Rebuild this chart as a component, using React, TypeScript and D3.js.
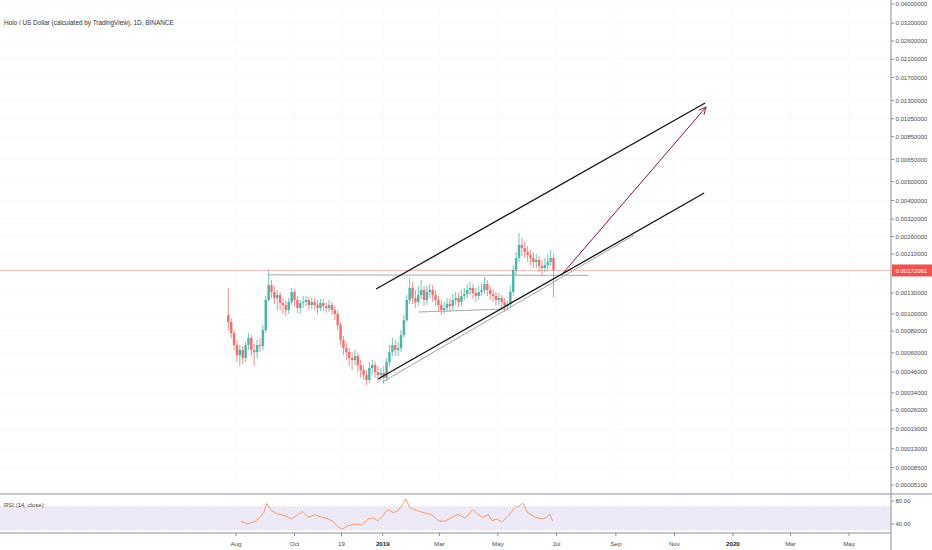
import * as d3 from "d3";

// TradingView log scale adds a small offset before taking the log
const OFF = 0.0001;
const MICRO = 1e-6; // candle values are stored in micro-USD

// ── Candles (3-day bars, values in µUSD) ─────────────────────────
const candleStart = "2018-07-24";
const stepDays = 3;
const firstOpen = 986;
const closes = [
  900, 780, 666, 582, 623, 559, 666, 732, 623, 606,
  666, 657, 812, 1192, 1438, 1318, 1222, 1269, 1148, 1119,
  1050, 1163, 1318, 1192, 1078, 1148, 1163, 1192, 1119, 1163,
  1119, 1078, 1148, 1105, 1078, 1119, 1050, 999, 867, 712,
  640, 606, 559, 544, 574, 507, 473, 441, 411, 487,
  507, 460, 441, 454, 423, 529, 606, 666, 623, 640,
  761, 924, 1192, 1386, 1222, 1163, 1269, 1351, 1192, 1318,
  1351, 1269, 1192, 1119, 1050, 1078, 1134, 1105, 1192, 1222,
  1163, 1254, 1285, 1351, 1386, 1301, 1254, 1318, 1351, 1456,
  1351, 1285, 1254, 1192, 1222, 1163, 1105, 1134, 1318, 1730,
  2004, 2346, 2263, 2156, 2078, 2004, 1909, 1955, 1818, 1774,
  1840, 1909, 2004, 1730,
];
const highs = [
  1386, 949, 812, 712, 666, 657, 694, 781, 761, 675,
  712, 732, 867, 1254, 1730, 1530, 1421, 1351, 1318, 1222,
  1192, 1222, 1386, 1368, 1254, 1192, 1254, 1254, 1238, 1222,
  1222, 1192, 1207, 1207, 1163, 1192, 1163, 1105, 1050, 901,
  751, 685, 640, 607, 623, 598, 544, 507, 473, 529,
  544, 529, 500, 487, 500, 559, 666, 732, 712, 694,
  812, 986, 1269, 1569, 1493, 1351, 1421, 1530, 1421, 1421,
  1456, 1438, 1351, 1254, 1192, 1163, 1222, 1222, 1285, 1318,
  1301, 1351, 1386, 1456, 1493, 1456, 1386, 1421, 1475, 1588,
  1530, 1421, 1368, 1318, 1301, 1269, 1222, 1192, 1421, 1840,
  2156, 2713, 2553, 2433, 2318, 2208, 2156, 2104, 2053, 1955,
  2004, 2104, 2208, 2104,
];
const lows = [
  812, 732, 623, 529, 500, 514, 529, 623, 574, 500,
  559, 607, 623, 781, 1163, 1222, 1134, 1050, 1050, 999,
  974, 999, 1119, 1105, 1012, 999, 1078, 1105, 1050, 1064,
  1050, 999, 1037, 1037, 1012, 1024, 986, 924, 812, 666,
  582, 544, 500, 473, 507, 460, 423, 411, 382, 394,
  447, 423, 399, 405, 388, 405, 500, 574, 574, 574,
  607, 732, 901, 1134, 1134, 1078, 1105, 1207, 1105, 1119,
  1222, 1163, 1105, 1037, 986, 999, 1024, 1024, 1050, 1119,
  1091, 1105, 1192, 1222, 1269, 1207, 1163, 1192, 1254, 1285,
  1254, 1192, 1163, 1105, 1119, 1078, 1024, 1050, 1078, 1254,
  1627, 1909, 2053, 2004, 1909, 1840, 1774, 1774, 1689, 1627,
  1689, 1730, 1818, 1238,
];
const lastPrice = 0.00172061;

// ── RSI (14, close) ──────────────────────────────────────────────
const rsiDates = [
  "2018-08-06", "2018-08-13", "2018-08-21", "2018-08-26", "2018-08-30", "2018-09-02", "2018-09-07", "2018-09-14", "2018-09-21", "2018-09-28",
  "2018-10-05", "2018-10-09", "2018-10-15", "2018-10-22", "2018-10-30", "2018-11-05", "2018-11-10", "2018-11-15", "2018-11-20", "2018-11-26",
  "2018-12-03", "2018-12-10", "2018-12-17", "2018-12-22", "2018-12-27", "2019-01-01", "2019-01-06", "2019-01-12", "2019-01-17", "2019-01-22",
  "2019-01-25", "2019-01-29", "2019-02-06", "2019-02-12", "2019-02-21", "2019-02-28", "2019-03-07", "2019-03-14", "2019-03-20", "2019-03-28",
  "2019-04-05", "2019-04-10", "2019-04-15", "2019-04-21", "2019-04-25", "2019-04-30", "2019-05-05", "2019-05-12", "2019-05-19", "2019-05-24",
  "2019-05-27", "2019-06-01", "2019-06-09", "2019-06-16", "2019-06-21", "2019-06-24", "2019-06-27",
];
const rsiValues = [
  44.7, 40, 44.7, 51.6, 60, 76, 63, 57, 54.5, 48.7,
  57, 62, 51.6, 56, 51.6, 48.7, 44.7, 35.5, 31, 37,
  40, 38.8, 48.7, 50.4, 45.7, 54.5, 65, 60, 63, 74.8,
  83.5, 69, 63, 60, 56, 45.7, 44.7, 51.6, 57, 50.4,
  65, 57, 51.6, 56, 45.7, 48.7, 43.5, 54.5, 69, 72,
  76, 60, 51.6, 48.7, 51.6, 57, 45.7,
];

// ── Axis ticks ───────────────────────────────────────────────────
const priceTicks = [
  0.04, 0.032, 0.026, 0.021, 0.017, 0.013, 0.0105, 0.0085, 0.0065, 0.005,
  0.004, 0.0032, 0.0026, 0.0021, 0.0013, 0.001, 0.0008, 0.0006, 0.00046,
  0.00034, 0.00026, 0.00019, 0.00013, 0.000085, 0.000051,
];
const timeTickDates = [
  "2018-08-01", "2018-10-01", "2018-11-19", "2019-01-01", "2019-03-01", "2019-05-01",
  "2019-07-01", "2019-09-01", "2019-11-01", "2020-01-01", "2020-03-01", "2020-05-01",
];
const timeTickLabels = ["Aug", "Oct", "19", "2019", "Mar", "May", "Jul", "Sep", "Nov", "2020", "Mar", "May"];
const rsiTicks = [80, 40];

// ── Drawings ─────────────────────────────────────────────────────
const upperChannel = [["2018-12-25", 0.001368], ["2019-12-03", 0.01261]] as const;
const lowerChannel = [["2018-12-27", 0.000417], ["2019-12-02", 0.004371]] as const;
const lowerGuide = [["2018-12-31", 0.000397], ["2019-09-20", 0.002647]] as const;
const resistance = [["2018-09-03", 0.00163], ["2019-08-03", 0.00162]] as const;
const support = [["2019-02-07", 0.001024], ["2019-05-10", 0.001064]] as const;
const projection = [["2019-07-08", 0.001667], ["2019-12-04", 0.01203]] as const;

const W = 932;
const H = 550;
const PANE_R = 891;
const MAIN_B = 494;
const RSI_B = 533;
const FONT = "'Liberation Sans', Arial, sans-serif";
const UP = "#26a69a";
const DOWN = "#ef5350";

const parse = d3.timeParse("%Y-%m-%d");
const x = d3.scaleTime()
  .domain([parse("2018-08-01")!, parse("2020-05-01")!])
  .range([236, 849]);
const yLog = d3.scaleLog().domain([0.04 + OFF, 0.000051 + OFF]).range([4, 485]);
const y = (p: number) => yLog(p + OFF);
const rsiY = d3.scaleLinear().domain([40, 80]).range([524, 501]);

export default function App() {
  const t0 = parse(candleStart)!;
  const candles = closes.map((c, i) => {
    const o = i === 0 ? firstOpen : closes[i - 1];
    return {
      date: d3.timeDay.offset(t0, i * stepDays),
      o: o * MICRO, c: c * MICRO, h: highs[i] * MICRO, l: lows[i] * MICRO,
    };
  });
  const bodyW = (x(d3.timeDay.offset(t0, stepDays)) - x(t0)) * 0.85;

  const rsiLine = d3.line<number>()
    .x((_, i) => x(parse(rsiDates[i])!))
    .y((v) => rsiY(v));

  const seg = (pts: readonly (readonly [string, number])[]) => ({
    x1: x(parse(pts[0][0])!), y1: y(pts[0][1]),
    x2: x(parse(pts[1][0])!), y2: y(pts[1][1]),
  });

  const arrow = seg(projection);
  const ang = Math.atan2(arrow.y2 - arrow.y1, arrow.x2 - arrow.x1);
  const head = 8;
  const headPts = [ang + Math.PI - 0.45, ang + Math.PI + 0.45].map((a) => [
    arrow.x2 + head * Math.cos(a),
    arrow.y2 + head * Math.sin(a),
  ]);

  const yLast = y(lastPrice);

  return (
    <svg
      width={W}
      height={H}
      style={{ position: "absolute", left: 0, top: 0, background: "#fff" }}
      fontFamily={FONT}
    >
      {/* grid */}
      {priceTicks.map((p) => (
        <line key={p} x1={0} x2={PANE_R} y1={y(p)} y2={y(p)} stroke="#f8f9fb" />
      ))}
      {timeTickDates.map((d) => (
        <line key={d} x1={x(parse(d)!)} x2={x(parse(d)!)} y1={0} y2={MAIN_B} stroke="#f8f9fb" />
      ))}

      {/* last price line */}
      <line x1={0} x2={PANE_R} y1={yLast} y2={yLast} stroke={DOWN} strokeOpacity={0.4} />

      {/* candles */}
      {candles.map((k, i) => {
        const col = k.c >= k.o ? UP : DOWN;
        const cx = x(k.date);
        const top = y(Math.max(k.o, k.c));
        const bot = y(Math.min(k.o, k.c));
        return (
          <g key={i} opacity={0.82}>
            <line x1={cx} x2={cx} y1={y(k.h)} y2={y(k.l)} stroke={col} strokeWidth={0.8} />
            <rect x={cx - bodyW / 2} y={top} width={bodyW} height={Math.max(bot - top, 0.8)} fill={col} />
          </g>
        );
      })}

      {/* drawings */}
      {[resistance, support].map((s, i) => (
        <line key={i} {...seg(s)} stroke="#a8a8a8" strokeWidth={1} />
      ))}
      <line {...seg(lowerGuide)} stroke="#a0a0a0" strokeWidth={1} />
      <line {...seg(upperChannel)} stroke="#111" strokeWidth={1.3} />
      <line {...seg(lowerChannel)} stroke="#111" strokeWidth={1.3} />
      <line {...arrow} stroke="#880e4f" strokeWidth={1} />
      <polyline
        points={`${headPts[0][0]},${headPts[0][1]} ${arrow.x2},${arrow.y2} ${headPts[1][0]},${headPts[1][1]}`}
        fill="none"
        stroke="#880e4f"
        strokeWidth={1}
      />

      {/* title */}
      <text x={4} y={25} fontSize={6.4} fill="#333">
        Holo / US Dollar (calculated by TradingView), 1D, BINANCE
      </text>

      {/* RSI pane */}
      <line x1={0} x2={W} y1={MAIN_B} y2={MAIN_B} stroke="#b2b5be" strokeWidth={1.5} />
      <rect x={0} y={rsiY(70)} width={PANE_R} height={rsiY(30) - rsiY(70)} fill="#7e57c2" fillOpacity={0.13} />
      {[70, 30].map((v) => (
        <line key={v} x1={0} x2={PANE_R} y1={rsiY(v)} y2={rsiY(v)} stroke="#c3c3c3" strokeDasharray="1,2" strokeWidth={0.7} />
      ))}
      <path d={rsiLine(rsiValues) ?? ""} fill="none" stroke="#f7935e" strokeWidth={0.9} />
      <text x={4} y={507} fontSize={6} fill="#444">RSI (14, close)</text>

      {/* price axis */}
      <line x1={PANE_R} x2={PANE_R} y1={0} y2={H} stroke="#8d8f96" strokeWidth={1} />
      {priceTicks.map((p) => (
        <g key={p}>
          <line x1={PANE_R} x2={PANE_R + 3} y1={y(p)} y2={y(p)} stroke="#8d8f96" />
          <text x={PANE_R + 4.5} y={y(p)} dy="0.35em" fontSize={6} fill="#4a4a4a">
            {p.toFixed(8)}
          </text>
        </g>
      ))}
      <rect x={PANE_R + 1} y={yLast - 6} width={W - PANE_R - 1} height={12} fill={DOWN} />
      <text x={PANE_R + 4.5} y={yLast} dy="0.35em" fontSize={6} fill="#fff">
        {lastPrice.toFixed(8)}
      </text>
      {rsiTicks.map((v) => (
        <g key={v}>
          <line x1={PANE_R} x2={PANE_R + 3} y1={rsiY(v)} y2={rsiY(v)} stroke="#8d8f96" />
          <text x={PANE_R + 4.5} y={rsiY(v)} dy="0.35em" fontSize={6} fill="#4a4a4a">
            {v.toFixed(2)}
          </text>
        </g>
      ))}

      {/* time axis */}
      <line x1={0} x2={PANE_R} y1={RSI_B} y2={RSI_B} stroke="#8d8f96" strokeWidth={1} />
      {timeTickDates.map((d, i) => {
        const tx = x(parse(d)!);
        const isYear = /^\d{4}$/.test(timeTickLabels[i]);
        return (
          <g key={d}>
            <line x1={tx} x2={tx} y1={RSI_B} y2={RSI_B + 3} stroke="#8d8f96" />
            <text x={tx} y={546} textAnchor="middle" fontSize={6.2} fill={isYear ? "#222" : "#4a4a4a"} fontWeight={isYear ? 700 : 400}>
              {timeTickLabels[i]}
            </text>
          </g>
        );
      })}
    </svg>
  );
}
